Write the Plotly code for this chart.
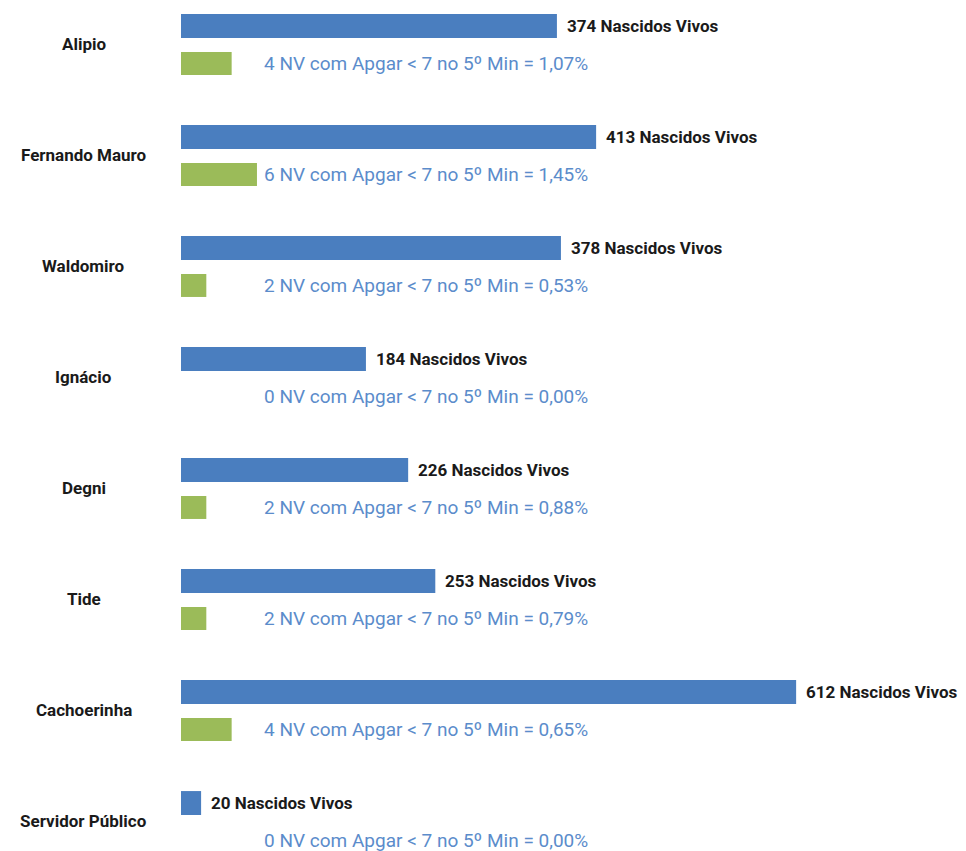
import plotly.graph_objects as go

# ---- data ----
locais = ["Alipio", "Fernando Mauro", "Waldomiro", "Ignácio", "Degni", "Tide",
          "Cachoerinha", "Servidor Público"]
nascidos_vivos = [374, 413, 378, 184, 226, 253, 612, 20]
nv_apgar_menor7 = [4, 6, 2, 0, 2, 2, 4, 0]

FONT = "Roboto, Liberation Sans, sans-serif"
BLUE = "#4A7EBF"
GREEN = "#9BBB59"
TXT_BLUE = "#5B8CCB"

idx = list(range(len(locais)))

fig = go.Figure()
fig.add_trace(go.Bar(
    y=idx, x=nascidos_vivos, orientation="h",
    marker=dict(color=BLUE, line=dict(width=0)),
    offset=-0.27, width=0.216, xaxis="x", yaxis="y",
    showlegend=False, hoverinfo="skip"))
fig.add_trace(go.Bar(
    y=idx, x=nv_apgar_menor7, orientation="h",
    marker=dict(color=GREEN, line=dict(width=0)),
    offset=0.072, width=0.207, xaxis="x2", yaxis="y",
    showlegend=False, hoverinfo="skip"))

annotations = []
for i, (nome, nv, ap) in enumerate(zip(locais, nascidos_vivos, nv_apgar_menor7)):
    pct = f"{ap / nv * 100:.2f}".replace(".", ",")
    annotations.append(dict(
        x=-0.1236, xref="paper", y=i, yref="y", text=f"<b>{nome}</b>",
        xanchor="center", yanchor="middle", showarrow=False,
        font=dict(family=FONT, size=17, color="#1a1a1a")))
    annotations.append(dict(
        x=nv, xref="x", y=i - 0.162, yref="y", text=f"<b>{nv} Nascidos Vivos</b>",
        xanchor="left", yanchor="middle", xshift=8, showarrow=False,
        font=dict(family=FONT, size=17, color="#1a1a1a")))
    annotations.append(dict(
        x=81 / 785, xref="paper", y=i + 0.176, yref="y",
        text=f"{ap} NV com Apgar < 7 no 5º Min = {pct}%",
        xanchor="left", yanchor="middle", showarrow=False,
        font=dict(family=FONT, size=19, color=TXT_BLUE)))

fig.update_layout(
    width=958, height=843,
    margin=dict(l=173, r=0, t=0, b=0),
    paper_bgcolor="white", plot_bgcolor="white",
    xaxis=dict(range=[0, 781], visible=False, fixedrange=True),
    xaxis2=dict(range=[0, 62], overlaying="x", visible=False, fixedrange=True),
    yaxis=dict(range=[7.27, -0.324], visible=False, fixedrange=True),
    annotations=annotations,
    barmode="overlay",
)

fig.write_html("out.html")
